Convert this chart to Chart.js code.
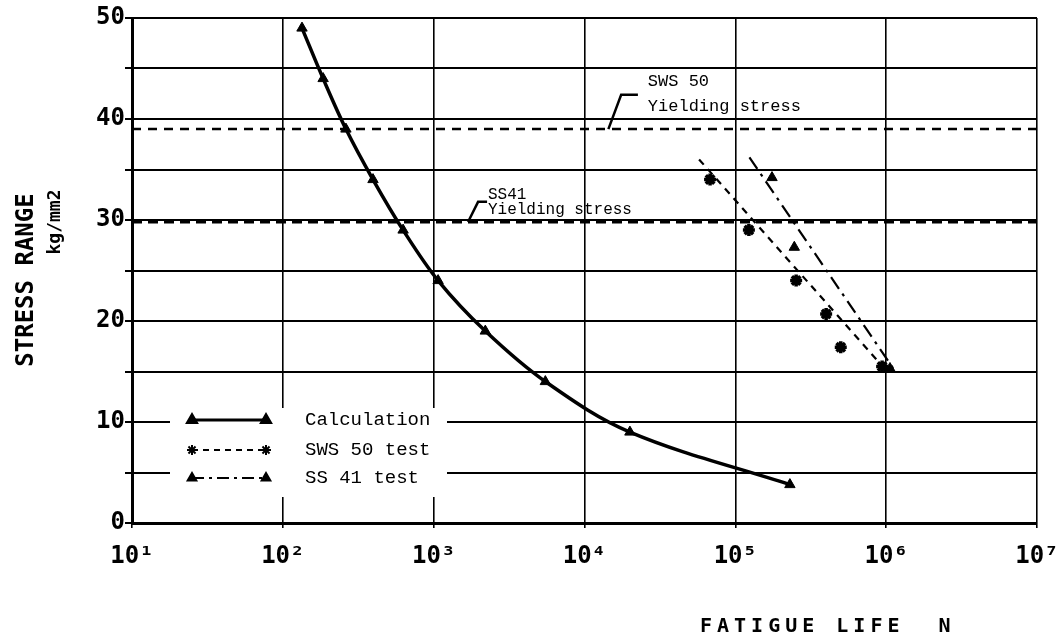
<!DOCTYPE html>
<html>
<head>
<meta charset="utf-8">
<script src="https://cdn.jsdelivr.net/npm/chart.js@4.4.1/dist/chart.umd.min.js"></script>
<style>
  body { margin: 0; background: #fff; }
</style>
</head>
<body>
<canvas id="fatigueChart" width="1064" height="640"></canvas>
<script>
// x axis decades (10^1 .. 10^7) and superscripts for tick labels
const decades = [1, 2, 3, 4, 5, 6, 7];
const sup = ['⁰', '¹', '²', '³', '⁴', '⁵', '⁶', '⁷'];

// Calculation curve
const calcN = [134, 185, 262, 396, 627, 1070, 2200, 5500, 20000, 230000];
const calcS = [49, 44, 39, 34, 29, 24, 19, 14, 9, 3.8];

// SWS 50 test points and fitted line
const swsN = [68000, 123000, 253000, 400000, 500000, 940000];
const swsS = [34, 29, 24, 20.7, 17.4, 15.5];
const swsFitN = [57500, 910000];
const swsFitS = [36, 15.8];

// SS 41 test points and fitted line
const ssN = [175000, 246000, 1060000];
const ssS = [34.2, 27.3, 15.3];
const ssFitN = [124000, 1150000];
const ssFitS = [36.2, 15];

// yielding stress lines
const yieldN = [10, 1e7];
const swsYield = 39;
const ssYield = 29.8;

const mono = '"DejaVu Sans Mono", monospace';
const typewriter = '"Liberation Mono", "Courier New", monospace';

function pts(xs, ys) {
  return xs.map((x, i) => ({ x: x, y: ys[i] }));
}

// legend box drawn inside the plot, like the original
const legendRows = [
  { label: 'Calculation', dash: [], style: 'triangle', width: 3 },
  { label: 'SWS 50 test', dash: [6, 5], style: 'star', width: 2 },
  { label: 'SS 41 test', dash: [12, 5, 3, 5], style: 'triangle', width: 2 }
];

const insideLegend = {
  id: 'insideLegend',
  beforeDatasetsDraw(chart) {
    const ctx = chart.ctx;
    ctx.save();
    ctx.fillStyle = '#fff';
    ctx.fillRect(170, 408, 277, 89);
    const rowY = [420, 450, 478];
    legendRows.forEach((r, i) => {
      const y = rowY[i];
      ctx.strokeStyle = '#000';
      ctx.lineWidth = r.width;
      ctx.setLineDash(r.dash);
      ctx.beginPath();
      ctx.moveTo(192, y);
      ctx.lineTo(266, y);
      ctx.stroke();
      ctx.setLineDash([]);
      [192, 266].forEach(px => {
        Chart.helpers.drawPoint(ctx, { pointStyle: r.style, radius: 5, borderWidth: r.style === 'star' ? 3 : 1, rotation: 0 }, px, y);
        if (r.style === 'triangle') { ctx.fillStyle = '#000'; ctx.fill(); }
      });
      ctx.fillStyle = '#000';
      ctx.font = '19px ' + typewriter;
      ctx.textBaseline = 'middle';
      ctx.textAlign = 'left';
      ctx.fillText(r.label, 305, y);
    });
    ctx.restore();
  }
};

// yielding stress notes, axis titles
const notes = {
  id: 'notes',
  afterDraw(chart) {
    const ctx = chart.ctx;
    const xs = chart.scales.x, ys = chart.scales.y;
    const X = v => xs.getPixelForValue(v), Y = v => ys.getPixelForValue(v);
    ctx.save();
    ctx.fillStyle = '#000';
    ctx.strokeStyle = '#000';
    ctx.font = '17px ' + typewriter;
    ctx.textBaseline = 'middle';
    ctx.textAlign = 'left';

    // SWS 50 note
    ctx.fillText('SWS 50', X(26300), Y(43.7));
    ctx.fillText('Yielding stress', X(26300), Y(41.2));
    ctx.lineWidth = 2.5;
    ctx.beginPath();
    ctx.moveTo(X(22600), Y(42.4));
    ctx.lineTo(X(17500), Y(42.4));
    ctx.lineTo(X(14400), Y(39));
    ctx.stroke();

    // SS41 note
    ctx.font = '16px ' + typewriter;
    ctx.fillText('SS41', X(2290), Y(32.5));
    ctx.fillText('Yielding stress', X(2290), Y(31.0));
    ctx.beginPath();
    ctx.moveTo(X(2260), Y(31.8));
    ctx.lineTo(X(1970), Y(31.8));
    ctx.lineTo(X(1690), Y(29.8));
    ctx.stroke();

    // y title
    ctx.font = 'bold 24px ' + mono;
    ctx.textAlign = 'center';
    ctx.save();
    ctx.translate(27, 280);
    ctx.rotate(-Math.PI / 2);
    ctx.fillText('STRESS RANGE', 0, 0);
    ctx.restore();
    ctx.font = 'bold 18px ' + mono;
    ctx.save();
    ctx.translate(55, 222);
    ctx.rotate(-Math.PI / 2);
    ctx.fillText('kg/mm2', 0, 0);
    ctx.restore();

    // x title
    ctx.font = 'bold 20px ' + mono;
    ctx.textAlign = 'left';
    ctx.letterSpacing = '5px';
    ctx.fillText('FATIGUE LIFE  N', 700, 627);
    ctx.restore();
  }
};

const ctx = document.getElementById('fatigueChart').getContext('2d');
const fatigueChart = new Chart(ctx, {
  type: 'line',
  data: {
    datasets: [
      {
        label: 'Calculation',
        data: pts(calcN, calcS),
        borderColor: '#000',
        backgroundColor: '#000',
        borderWidth: 3.5,
        tension: 0.35,
        pointStyle: 'triangle',
        pointRadius: 6,
        pointBorderWidth: 1
      },
      {
        label: 'SWS 50 test fit',
        data: pts(swsFitN, swsFitS),
        borderColor: '#000',
        borderWidth: 2.2,
        borderDash: [7, 6],
        pointRadius: 0
      },
      {
        label: 'SWS 50 test',
        data: pts(swsN, swsS),
        showLine: false,
        borderColor: '#000',
        backgroundColor: '#000',
        pointStyle: 'star',
        pointRadius: 6,
        pointBorderWidth: 3.5
      },
      {
        label: 'SS 41 test fit',
        data: pts(ssFitN, ssFitS),
        borderColor: '#000',
        borderWidth: 2.2,
        borderDash: [14, 6, 3, 6],
        pointRadius: 0
      },
      {
        label: 'SS 41 test',
        data: pts(ssN, ssS),
        showLine: false,
        borderColor: '#000',
        backgroundColor: '#000',
        pointStyle: 'triangle',
        pointRadius: 6
      },
      {
        label: 'SWS 50 yielding stress',
        data: pts(yieldN, [swsYield, swsYield]),
        borderColor: '#000',
        borderWidth: 2.5,
        borderDash: [9, 7],
        pointRadius: 0
      },
      {
        label: 'SS41 yielding stress',
        data: pts(yieldN, [ssYield, ssYield]),
        borderColor: '#000',
        borderWidth: 3,
        borderDash: [10, 6],
        pointRadius: 0
      }
    ]
  },
  options: {
    responsive: false,
    animation: false,
    layout: { padding: { top: 18, right: 27, left: 0, bottom: 0 } },
    plugins: {
      legend: { display: false },
      tooltip: { enabled: false }
    },
    scales: {
      x: {
        type: 'logarithmic',
        min: 10, max: 1e7,
        afterBuildTicks: s => { s.ticks = decades.map(e => ({ value: Math.pow(10, e) })); },
        afterFit: s => { s.height = 117; s.paddingRight = 0; s.paddingLeft = 0; },
        grid: { color: '#000', lineWidth: 1.6, tickLength: 5 },
        border: { color: '#000', width: 3 },
        ticks: {
          color: '#000',
          autoSkip: false,
          maxRotation: 0,
          padding: 14,
          font: { family: mono, weight: 'bold', size: 24 },
          callback: v => '10' + sup[Math.round(Math.log10(v))]
        }
      },
      y: {
        min: 0, max: 50,
        afterFit: s => { s.width = 132; },
        grid: { color: '#000', lineWidth: 2, tickLength: 7 },
        border: { color: '#000', width: 3 },
        ticks: {
          stepSize: 5,
          autoSkip: false,
          color: '#000',
          padding: 0,
          font: { family: mono, weight: 'bold', size: 24 },
          callback: v => (v % 10 === 0 ? String(v) : '')
        }
      }
    }
  },
  plugins: [insideLegend, notes]
});
</script>
</body>
</html>
